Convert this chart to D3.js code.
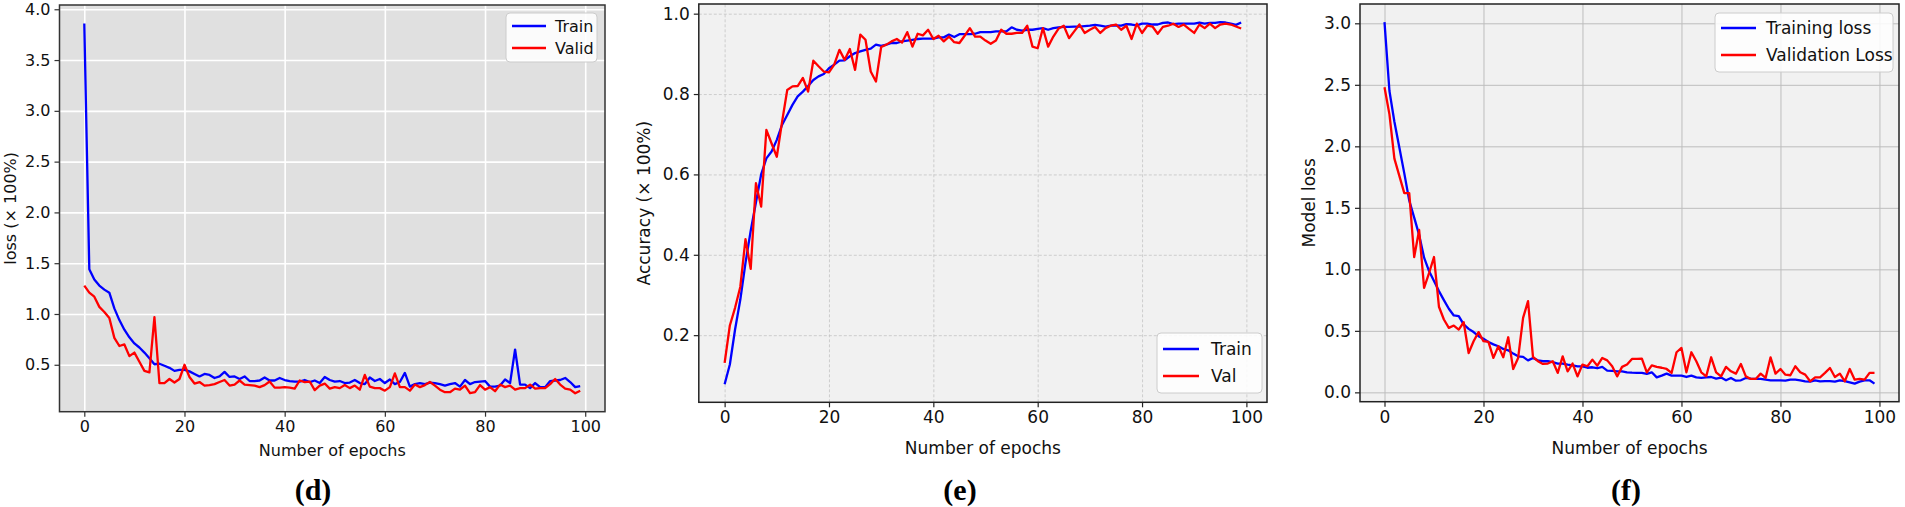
<!DOCTYPE html>
<html>
<head>
<meta charset="utf-8">
<script src="https://cdn.jsdelivr.net/npm/d3@7"></script>
<style>
  body { margin: 0; background: #fff; }
  svg { display: block; }
</style>
</head>
<body>
<div id="chart"></div>
<script>
// epochs 0..99
const epochs = d3.range(0, 100);
const xTicks = [0, 20, 40, 60, 80, 100];

// (d) loss
const dTrain = [
  3.86, 1.44, 1.34, 1.28, 1.24, 1.21, 1.055, 0.94, 0.845, 0.77,
  0.71, 0.67, 0.62, 0.565, 0.505, 0.51, 0.49, 0.47, 0.44, 0.45,
  0.45, 0.435, 0.41, 0.385, 0.41, 0.40, 0.37, 0.385, 0.43, 0.38,
  0.385, 0.36, 0.385, 0.34, 0.34, 0.345, 0.375, 0.345, 0.345, 0.37,
  0.35, 0.34, 0.335, 0.335, 0.35, 0.33, 0.345, 0.32, 0.38, 0.35,
  0.335, 0.34, 0.32, 0.325, 0.35, 0.32, 0.31, 0.375, 0.34, 0.36,
  0.32, 0.355, 0.31, 0.33, 0.42, 0.285, 0.31, 0.32, 0.31, 0.325,
  0.32, 0.31, 0.295, 0.31, 0.32, 0.285, 0.35, 0.31, 0.33, 0.335,
  0.34, 0.285, 0.285, 0.295, 0.355, 0.32, 0.65, 0.305, 0.305, 0.27,
  0.32, 0.28, 0.28, 0.34, 0.345, 0.35, 0.37, 0.33, 0.28, 0.29
];
const dValid = [
  1.28, 1.21, 1.17, 1.07, 1.02, 0.96, 0.765, 0.685, 0.70, 0.585,
  0.62, 0.53, 0.44, 0.425, 0.97, 0.32, 0.32, 0.36, 0.325, 0.36,
  0.50, 0.38, 0.315, 0.33, 0.295, 0.30, 0.31, 0.33, 0.35, 0.295,
  0.305, 0.345, 0.305, 0.30, 0.295, 0.28, 0.30, 0.335, 0.275, 0.275,
  0.28, 0.275, 0.265, 0.345, 0.33, 0.335, 0.25, 0.295, 0.315, 0.265,
  0.28, 0.27, 0.30, 0.27, 0.295, 0.255, 0.40, 0.285, 0.27, 0.27,
  0.245, 0.28, 0.415, 0.28, 0.28, 0.245, 0.305, 0.28, 0.30, 0.33,
  0.295, 0.255, 0.23, 0.23, 0.265, 0.255, 0.295, 0.22, 0.23, 0.30,
  0.255, 0.28, 0.24, 0.305, 0.28, 0.295, 0.255, 0.27, 0.27, 0.305,
  0.265, 0.27, 0.27, 0.31, 0.36, 0.305, 0.265, 0.255, 0.22, 0.245
];
const dTicks = [0.5, 1.0, 1.5, 2.0, 2.5, 3.0, 3.5, 4.0];

// (e) accuracy
const eTrain = [
  0.078, 0.127, 0.214, 0.288, 0.38, 0.46, 0.53, 0.60, 0.64, 0.657,
  0.686, 0.723, 0.748, 0.773, 0.794, 0.806, 0.82, 0.835, 0.844, 0.85,
  0.864, 0.873, 0.883, 0.884, 0.894, 0.902, 0.906, 0.91, 0.913, 0.923,
  0.92, 0.923, 0.927, 0.927, 0.931, 0.933, 0.935, 0.937, 0.938, 0.938,
  0.938, 0.941, 0.941, 0.948, 0.942, 0.949, 0.949, 0.949, 0.95, 0.954,
  0.954, 0.954, 0.956, 0.956, 0.956, 0.966, 0.96, 0.958, 0.96, 0.96,
  0.962, 0.964, 0.96, 0.964, 0.966, 0.967, 0.967, 0.968, 0.968, 0.969,
  0.97, 0.972, 0.97, 0.968, 0.97, 0.971, 0.97, 0.974, 0.973, 0.971,
  0.975, 0.975, 0.973, 0.973, 0.977, 0.978, 0.974, 0.975, 0.975, 0.975,
  0.975, 0.978, 0.975, 0.977, 0.977, 0.979, 0.978, 0.975, 0.972, 0.978
];
const eVal = [
  0.131, 0.224, 0.268, 0.32, 0.439, 0.365, 0.578, 0.52, 0.711, 0.677,
  0.644, 0.73, 0.81, 0.819, 0.82, 0.84, 0.806, 0.883, 0.869, 0.856,
  0.854, 0.873, 0.91, 0.885, 0.912, 0.86, 0.948, 0.935, 0.856, 0.831,
  0.917, 0.923, 0.931, 0.937, 0.928, 0.954, 0.918, 0.95, 0.946, 0.96,
  0.937, 0.945, 0.931, 0.943, 0.929, 0.927, 0.945, 0.964, 0.943, 0.943,
  0.933, 0.925, 0.933, 0.96, 0.95, 0.95, 0.952, 0.952, 0.97, 0.918,
  0.914, 0.964, 0.918, 0.943, 0.963, 0.97, 0.939, 0.956, 0.973, 0.952,
  0.96, 0.967, 0.952, 0.964, 0.97, 0.973, 0.96, 0.97, 0.937, 0.975,
  0.952, 0.97, 0.968, 0.95, 0.967, 0.97, 0.975, 0.967, 0.973, 0.962,
  0.952, 0.973, 0.964, 0.975, 0.964, 0.973, 0.975, 0.973, 0.968, 0.963
];
const eTicks = [0.2, 0.4, 0.6, 0.8, 1.0];

// (f) model loss
const fTrain = [
  3.01, 2.45, 2.2, 1.99, 1.78, 1.56, 1.42, 1.28, 1.095, 0.986,
  0.905, 0.823, 0.75, 0.68, 0.625, 0.62, 0.552, 0.516, 0.49, 0.457,
  0.435, 0.41, 0.39, 0.375, 0.353, 0.342, 0.315, 0.293, 0.288, 0.26,
  0.28, 0.26, 0.253, 0.253, 0.245, 0.234, 0.234, 0.226, 0.22, 0.212,
  0.212, 0.2, 0.204, 0.196, 0.207, 0.177, 0.174, 0.171, 0.171, 0.163,
  0.16, 0.158, 0.158, 0.15, 0.163, 0.122, 0.136, 0.152, 0.136, 0.136,
  0.136, 0.125, 0.136, 0.122, 0.117, 0.122, 0.125, 0.111, 0.12, 0.098,
  0.117, 0.095, 0.098, 0.117, 0.111, 0.109, 0.109, 0.103, 0.098, 0.098,
  0.098, 0.095, 0.103, 0.103, 0.098, 0.09, 0.087, 0.098, 0.09, 0.092,
  0.092, 0.087, 0.098, 0.092, 0.082, 0.071, 0.087, 0.098, 0.098, 0.071
];
const fVal = [
  2.48, 2.26, 1.90, 1.76, 1.62, 1.62, 1.10, 1.32, 0.85, 0.97,
  1.10, 0.696, 0.592, 0.524, 0.543, 0.51, 0.57, 0.32, 0.416, 0.49,
  0.416, 0.41, 0.28, 0.375, 0.285, 0.448, 0.19, 0.28, 0.606, 0.742,
  0.288, 0.253, 0.231, 0.234, 0.253, 0.158, 0.293, 0.171, 0.234, 0.13,
  0.226, 0.212, 0.266, 0.217, 0.28, 0.26, 0.212, 0.13, 0.207, 0.226,
  0.272, 0.272, 0.274, 0.163, 0.22, 0.207, 0.2, 0.19, 0.158, 0.326,
  0.361, 0.163, 0.326, 0.253, 0.163, 0.13, 0.285, 0.163, 0.13, 0.207,
  0.171, 0.152, 0.231, 0.13, 0.109, 0.109, 0.152, 0.117, 0.285, 0.152,
  0.19, 0.144, 0.139, 0.212, 0.163, 0.144, 0.09, 0.122, 0.122, 0.158,
  0.198, 0.125, 0.152, 0.09, 0.19, 0.103, 0.109, 0.103, 0.158, 0.158
];
const fTicks = [0.0, 0.5, 1.0, 1.5, 2.0, 2.5, 3.0];

const FONT = 'DejaVu Sans';

const svg = d3.select('#chart')
  .append('svg')
  .attr('width', 1905)
  .attr('height', 507);

function drawPanel(p) {
  const g = svg.append('g');
  // matplotlib style auto limits: 5% margin
  const x = d3.scaleLinear().domain([-4.95, 103.95]).range([p.left, p.right]);
  const all = p.series.flatMap(s => s.values);
  const lo = d3.min(all), hi = d3.max(all), m = (hi - lo) * 0.05;
  const y = d3.scaleLinear().domain([lo - m, hi + m]).range([p.bottom, p.top]);
  const h = p.bottom - p.top, w = p.right - p.left;

  // background
  g.append('rect')
    .attr('x', p.left).attr('y', p.top)
    .attr('width', w).attr('height', h)
    .attr('fill', p.bg);

  // grid
  const styleGrid = s => {
    s.select('.domain').remove();
    s.selectAll('line')
      .attr('stroke', p.gridColor)
      .attr('stroke-width', p.gridWidth)
      .attr('stroke-dasharray', p.gridDash);
  };
  g.append('g')
    .attr('transform', `translate(0,${p.bottom})`)
    .call(d3.axisBottom(x).tickValues(xTicks).tickSize(-h).tickFormat(''))
    .call(styleGrid);
  g.append('g')
    .attr('transform', `translate(${p.left},0)`)
    .call(d3.axisLeft(y).tickValues(p.yTicks).tickSize(-w).tickFormat(''))
    .call(styleGrid);

  // lines
  const line = d3.line()
    .x((d, i) => x(epochs[i]))
    .y(d => y(d));
  p.series.forEach(s => {
    g.append('path')
      .datum(s.values)
      .attr('d', line)
      .attr('fill', 'none')
      .attr('stroke', s.color)
      .attr('stroke-width', 2.3)
      .attr('stroke-linejoin', 'round');
  });

  // spines
  g.append('rect')
    .attr('x', p.left).attr('y', p.top)
    .attr('width', w).attr('height', h)
    .attr('fill', 'none')
    .attr('stroke', p.spine)
    .attr('stroke-width', 1.5);

  // axes
  const styleAxis = s => {
    s.select('.domain').remove();
    s.selectAll('line').attr('stroke', p.spine).attr('stroke-width', 1.2);
    s.selectAll('text')
      .attr('fill', '#111')
      .style('font-family', FONT)
      .style('font-size', p.fontSize + 'px');
  };
  g.append('g')
    .attr('transform', `translate(0,${p.bottom})`)
    .call(d3.axisBottom(x).tickValues(xTicks).tickSize(5).tickPadding(4).tickFormat(d3.format('d')))
    .call(styleAxis);
  g.append('g')
    .attr('transform', `translate(${p.left},0)`)
    .call(d3.axisLeft(y).tickValues(p.yTicks).tickSize(5).tickPadding(4).tickFormat(d3.format('.1f')))
    .call(styleAxis);

  // axis labels
  g.append('text')
    .attr('x', (p.left + p.right) / 2)
    .attr('y', p.xLabelY)
    .attr('text-anchor', 'middle')
    .style('font-family', FONT)
    .style('font-size', p.fontSize + 'px')
    .attr('fill', '#111')
    .text('Number of epochs');
  g.append('text')
    .attr('transform', `translate(${p.yLabelX},${(p.top + p.bottom) / 2}) rotate(-90)`)
    .attr('text-anchor', 'middle')
    .attr('dominant-baseline', 'central')
    .style('font-family', FONT)
    .style('font-size', p.fontSize + 'px')
    .attr('fill', '#111')
    .text(p.yLabel);

  // legend
  const L = p.legend;
  const lg = g.append('g');
  lg.append('rect')
    .attr('x', L.x).attr('y', L.y)
    .attr('width', L.w).attr('height', L.h)
    .attr('rx', 4)
    .attr('fill', '#fff').attr('fill-opacity', 0.85)
    .attr('stroke', '#cccccc');
  p.series.forEach((s, i) => {
    const cy = L.y + L.first + i * L.step;
    lg.append('line')
      .attr('x1', L.x + 6).attr('x2', L.x + 6 + L.len)
      .attr('y1', cy).attr('y2', cy)
      .attr('stroke', s.color).attr('stroke-width', 2.3);
    lg.append('text')
      .attr('x', L.x + L.textDx)
      .attr('y', cy)
      .attr('dominant-baseline', 'central')
      .style('font-family', FONT)
      .style('font-size', L.fontSize + 'px')
      .attr('fill', '#111')
      .text(s.name);
  });

  // caption
  g.append('text')
    .attr('x', p.captionX)
    .attr('y', 500)
    .attr('text-anchor', 'middle')
    .style('font-family', 'Liberation Serif')
    .style('font-weight', 'bold')
    .style('font-size', '30px')
    .attr('fill', '#000')
    .text(p.caption);
}

drawPanel({
  left: 59.5, right: 605, top: 5, bottom: 411.7,
  series: [
    { name: 'Train', values: dTrain, color: '#0000ff' },
    { name: 'Valid', values: dValid, color: '#ff0000' }
  ],
  yTicks: dTicks, bg: '#e0e0e0',
  gridColor: '#ffffff', gridWidth: 1.6, gridDash: null,
  spine: '#333333', fontSize: 16,
  xLabelY: 456, yLabel: 'loss (× 100%)', yLabelX: 10,
  legend: { x: 506, y: 13, w: 91, h: 49, first: 13, step: 22, len: 34, textDx: 49, fontSize: 16 },
  caption: '(d)', captionX: 313
});

drawPanel({
  left: 698.8, right: 1267, top: 4, bottom: 402.3,
  series: [
    { name: 'Train', values: eTrain, color: '#0000ff' },
    { name: 'Val', values: eVal, color: '#ff0000' }
  ],
  yTicks: eTicks, bg: '#f1f1f1',
  gridColor: '#c4c4c4', gridWidth: 0.8, gridDash: '3,2',
  spine: '#222222', fontSize: 17,
  xLabelY: 454, yLabel: 'Accuracy (× 100%)', yLabelX: 644,
  legend: { x: 1157, y: 333, w: 105, h: 60, first: 16, step: 27, len: 36, textDx: 54, fontSize: 17 },
  caption: '(e)', captionX: 960
});

drawPanel({
  left: 1360, right: 1899, top: 4, bottom: 401.7,
  series: [
    { name: 'Training loss', values: fTrain, color: '#0000ff' },
    { name: 'Validation Loss', values: fVal, color: '#ff0000' }
  ],
  yTicks: fTicks, bg: '#f1f1f1',
  gridColor: '#bdbdbd', gridWidth: 1, gridDash: null,
  spine: '#222222', fontSize: 17,
  xLabelY: 454, yLabel: 'Model loss', yLabelX: 1309,
  legend: { x: 1715, y: 13, w: 178, h: 59, first: 15, step: 27, len: 35, textDx: 51, fontSize: 17 },
  caption: '(f)', captionX: 1626
});
</script>
</body>
</html>
